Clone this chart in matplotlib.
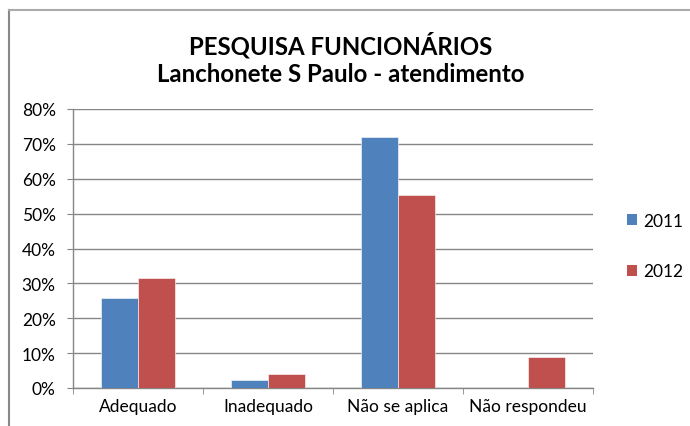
import matplotlib.pyplot as plt
import numpy as np
from matplotlib.lines import Line2D
from matplotlib.patches import Patch

plt.rcParams['font.family'] = ['Lato', 'DejaVu Sans']

categories = ['Adequado', 'Inadequado', 'Não se aplica', 'Não respondeu']
series = ['2011', '2012']
vals_2011 = [25.7, 2.2, 72.1, 0.0]
vals_2012 = [31.6, 3.9, 55.4, 9.0]
colors = ['#4F81BD', '#C0504D']
yticks = [0, 10, 20, 30, 40, 50, 60, 70, 80]

W, H = 690, 427
fig = plt.figure(figsize=(W / 100, H / 100), dpi=100)
ax = fig.add_axes([73 / W, 1 - 389 / H, (593 - 73) / W, (389 - 110) / H])

x = np.arange(len(categories))
bw = 1 / 3.5
for i, (vals, c) in enumerate(zip([vals_2011, vals_2012], colors)):
    ax.bar(x + (i - 0.5) * bw, vals, width=bw, color=c, edgecolor='white',
           linewidth=0.4, label=series[i], zorder=3)

ax.set_xlim(-0.5, len(categories) - 0.5)
ax.set_ylim(0, 80)
ax.set_yticks(yticks)
ax.set_yticklabels([f'{t}%' for t in yticks], fontsize=12.5)
ax.yaxis.grid(True, color='#868686', linewidth=1, zorder=0)

# category labels centred, ticks at boundaries
ax.set_xticks(x)
ax.set_xticklabels(categories, fontsize=12.5)
ax.tick_params(axis='x', length=0, pad=7)
ax.set_xticks(np.arange(-0.5, len(categories)), minor=True)
ax.tick_params(axis='x', which='minor', length=4.5, color='#868686', direction='out')
ax.tick_params(axis='y', length=4.5, color='#868686', direction='out', pad=8)

for s in ['top', 'right']:
    ax.spines[s].set_visible(False)
for s in ['left', 'bottom']:
    ax.spines[s].set_color('#868686')
    ax.spines[s].set_linewidth(1)

fig.text(341 / W, 1 - 45 / H, 'PESQUISA FUNCIONÁRIOS', ha='center', va='center',
         fontsize=17.3, fontweight='bold')
fig.text(341 / W, 1 - 75 / H, 'Lanchonete S Paulo - atendimento', ha='center', va='center',
         fontsize=17.3, fontweight='bold')

handles = [Patch(facecolor=c) for c in colors]
fig.legend(handles, series, loc='center left', bbox_to_anchor=(627 / W, 1 - 247 / H),
           frameon=False, fontsize=12.5, handlelength=0.6, handleheight=0.6,
           handletextpad=0.35, labelspacing=2.0, borderpad=0, borderaxespad=0)

# outer chart border (top and left visible)
fig.add_artist(Line2D([8.5 / W, 8.5 / W], [0, 1 - 10.5 / H], transform=fig.transFigure,
                      color='#888888', linewidth=1.5))
fig.add_artist(Line2D([8.5 / W, 1], [1 - 10.5 / H, 1 - 10.5 / H], transform=fig.transFigure,
                      color='#aaaaaa', linewidth=1.5))

fig.savefig('out.png', dpi=100)
